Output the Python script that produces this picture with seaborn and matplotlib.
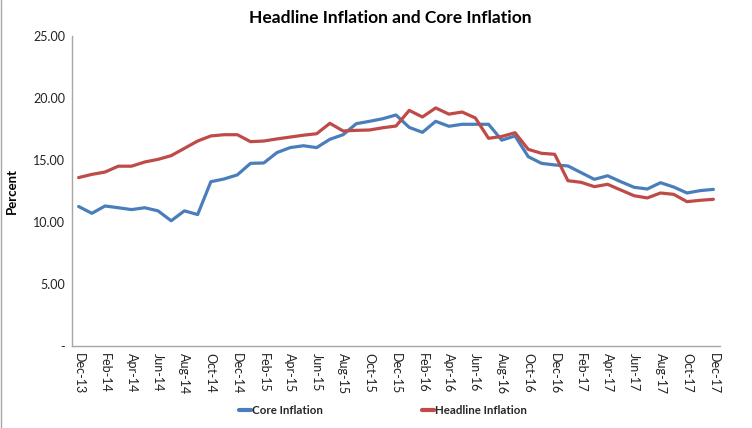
import matplotlib
matplotlib.use("Agg")
import matplotlib.pyplot as plt
from matplotlib.lines import Line2D
import seaborn as sns
import pandas as pd

months = ["Dec-13", "Jan-14", "Feb-14", "Mar-14", "Apr-14", "May-14", "Jun-14", "Jul-14", "Aug-14",
          "Sep-14", "Oct-14", "Nov-14", "Dec-14", "Jan-15", "Feb-15", "Mar-15", "Apr-15", "May-15",
          "Jun-15", "Jul-15", "Aug-15", "Sep-15", "Oct-15", "Nov-15", "Dec-15", "Jan-16", "Feb-16",
          "Mar-16", "Apr-16", "May-16", "Jun-16", "Jul-16", "Aug-16", "Sep-16", "Oct-16", "Nov-16",
          "Dec-16", "Jan-17", "Feb-17", "Mar-17", "Apr-17", "May-17", "Jun-17", "Jul-17", "Aug-17",
          "Sep-17", "Oct-17", "Nov-17", "Dec-17"]

core = [11.25, 10.7, 11.29, 11.15, 11.0, 11.15, 10.9, 10.1, 10.9, 10.6,
        13.25, 13.47, 13.8, 14.73, 14.76, 15.6, 16.0, 16.15, 16.0, 16.67,
        17.04, 17.93, 18.12, 18.33, 18.63, 17.63, 17.23, 18.12, 17.72, 17.88,
        17.88, 17.88, 16.6, 16.94, 15.27, 14.73, 14.6, 14.52, 13.98, 13.44,
        13.73, 13.25, 12.8, 12.66, 13.17, 12.82, 12.34, 12.53, 12.63]

headline = [13.58, 13.84, 14.03, 14.5, 14.5, 14.84, 15.05, 15.35, 15.94, 16.53,
            16.94, 17.04, 17.04, 16.48, 16.53, 16.7, 16.85, 17.0, 17.12, 17.96,
            17.34, 17.39, 17.42, 17.6, 17.74, 19.0, 18.47, 19.2, 18.7, 18.87,
            18.39, 16.75, 16.9, 17.2, 15.86, 15.54, 15.46, 13.33, 13.2, 12.85,
            13.04, 12.58, 12.12, 11.94, 12.34, 12.23, 11.64, 11.75, 11.83]

series_names = ["Core Inflation", "Headline Inflation"]
colors = ["#4a7ebb", "#be4b48"]
yticks = [0, 5, 10, 15, 20, 25]
ytick_labels = ["-", "5.00", "10.00", "15.00", "20.00", "25.00"]

sns.set_theme(style="white")
plt.rcParams["font.family"] = ["Lato", "DejaVu Sans"]

df = pd.DataFrame({
    "idx": list(range(len(months))) * 2,
    "value": core + headline,
    "series": [series_names[0]] * len(months) + [series_names[1]] * len(months),
})

fig = plt.figure(figsize=(7.52, 4.28), dpi=100)
ax = fig.add_axes([72 / 752, 1 - 346 / 428, (720 - 72) / 752, (346 - 36) / 428])

sns.lineplot(data=df, x="idx", y="value", hue="series", palette=colors,
             hue_order=series_names, linewidth=2.3, ax=ax, legend=False)

ax.set_xlim(-0.5, len(months) - 0.5)
ax.set_ylim(0, 25)
ax.set_xticks(range(0, len(months), 2))
ax.set_xticklabels(months[::2], rotation=270, fontsize=9, color="#222222")
ax.set_yticks(yticks)
ax.set_yticklabels(ytick_labels, fontsize=9, color="#222222")
ax.tick_params(axis="both", length=0, pad=5)
ax.set_xlabel("")
ax.set_ylabel("")
ax.grid(False)
for s in ["top", "right"]:
    ax.spines[s].set_visible(False)
for s in ["left", "bottom"]:
    ax.spines[s].set_color("#a6a6a6")
    ax.spines[s].set_linewidth(1.0)

fig.text(12 / 752, 1 - 191 / 428, "Percent", rotation=90, ha="center", va="center",
         fontsize=9.5, fontweight="bold", color="black")

fig.text(390 / 752, 1 - 18 / 428, "Headline Inflation and Core Inflation",
         ha="center", va="center", fontsize=12.5, fontweight="bold", color="black")

handles = [Line2D([0], [0], color=c, lw=3) for c in colors]
leg = fig.legend(handles, series_names, loc="center", bbox_to_anchor=(383 / 752, 1 - 411 / 428),
                 ncol=2, frameon=False, handlelength=1.0, handletextpad=0.1,
                 columnspacing=8.6, prop={"family": ["Lato", "DejaVu Sans"], "weight": "bold", "size": 8.3})

fig.add_artist(Line2D([1.5 / 752, 1.5 / 752], [0, 1], color="#a6a6a6", lw=1.0))

fig.savefig("out.png", dpi=100)
